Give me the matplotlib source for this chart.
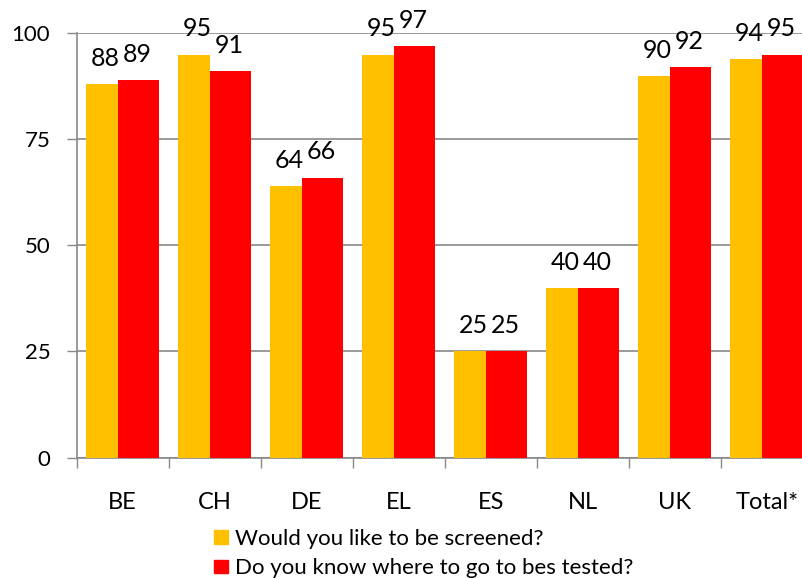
import matplotlib
matplotlib.use("Agg")
import matplotlib.pyplot as plt
import matplotlib.patches as mpatches
import numpy as np

# --- data ---
CATEGORIES = ["BE", "CH", "DE", "EL", "ES", "NL", "UK", "Total*"]
SCREENED = [88, 95, 64, 95, 25, 40, 90, 94]
KNOW_WHERE = [89, 91, 66, 97, 25, 40, 92, 95]
SERIES_LABELS = ["Would you like to be screened?",
                 "Do you know where to go to bes tested?"]
COLORS = ["#FFC000", "#FF0000"]
GRID = "#898989"

plt.rcParams["font.family"] = ["Lato", "DejaVu Sans"]

fig = plt.figure(figsize=(8.02, 5.78), dpi=100)
ax = fig.add_axes([76.7 / 802, 1 - 457.5 / 578, 92 * 8 / 802, (457.5 - 33.3) / 578])

x = np.arange(len(CATEGORIES))
# orange bar is a bit narrower than red, as in the original rendering
ax.bar(x - 0.40, SCREENED, 0.35, align="edge", color=COLORS[0], zorder=3)
ax.bar(x - 0.05, KNOW_WHERE, 0.44, align="edge", color=COLORS[1], zorder=3)

for xi, v in zip(x, SCREENED):
    ax.annotate(str(v), (xi - 0.185, v), xytext=(0, 13), textcoords="offset points",
                ha="center", va="baseline", fontsize=18, annotation_clip=False)
for xi, v in zip(x, KNOW_WHERE):
    ax.annotate(str(v), (xi + 0.155, v), xytext=(0, 13), textcoords="offset points",
                ha="center", va="baseline", fontsize=18, annotation_clip=False)

ax.set_xlim(-0.5, len(CATEGORIES) - 0.5)
ax.set_ylim(0, 100)
ax.set_yticks([0, 25, 50, 75, 100])
ax.tick_params(axis="y", length=7, width=1, color=GRID, pad=12, labelsize=16)

# ticks at category boundaries, labels at centers
ax.set_xticks(np.arange(len(CATEGORIES) + 1) - 0.5)
ax.set_xticklabels([])
ax.set_xticks(x, minor=True)
ax.set_xticklabels(CATEGORIES, minor=True)
ax.tick_params(axis="x", which="major", length=7, width=1, color=GRID)
ax.tick_params(axis="x", which="minor", length=0, pad=25, labelsize=17)

ax.grid(axis="y", color=GRID, linewidth=1.2, zorder=0)
for s in ["top", "right"]:
    ax.spines[s].set_visible(False)
for s in ["left", "bottom"]:
    ax.spines[s].set_color(GRID)
    ax.spines[s].set_linewidth(1.2)

handles = [mpatches.Patch(color=c, label=l) for c, l in zip(COLORS, SERIES_LABELS)]
fig.legend(handles=handles, loc="upper left", bbox_to_anchor=(214 / 802, 1 - 529 / 578),
           frameon=False, fontsize=16, handlelength=0.63, handleheight=0.59,
           handletextpad=0.3, labelspacing=0.42, borderpad=0, borderaxespad=0)

fig.savefig("out.png", dpi=100)
